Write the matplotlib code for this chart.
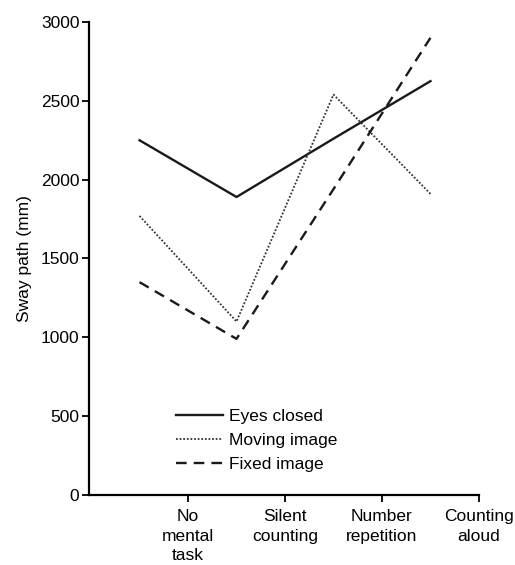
import matplotlib.pyplot as plt
import numpy as np

plt.rcParams['font.family'] = ['Liberation Sans', 'DejaVu Sans']

# Sway path per task condition
conditions = ['No\nmental\ntask', 'Silent\ncounting', 'Number\nrepetition', 'Counting\naloud']
eyes_closed = [2250, 1890, 2260, 2625]
moving_image = [1770, 1100, 2540, 1910]
fixed_image = [1350, 990, 1940, 2900]

fig = plt.figure(figsize=(5.15, 5.65), dpi=100)
ax = fig.add_axes([0.173, 0.124, 0.757, 0.837])

# points sit half a step left of their category labels
x = np.arange(len(conditions)) + 0.5
ax.plot(x, eyes_closed, color='#1a1a1a', lw=1.7, ls='-', label='Eyes closed')
ax.plot(x, moving_image, color='#333333', lw=1.3, ls=(0, (1, 1)), label='Moving image')
ax.plot(x, fixed_image, color='#1a1a1a', lw=1.7, ls=(0, (4.5, 3)), label='Fixed image')

fs = 12.5
ax.set_xlim(-0.02, 4)
ax.set_ylim(0, 3000)
ax.set_xticks(np.arange(1, len(conditions) + 1))
ax.set_xticklabels(conditions, fontsize=fs, linespacing=1.4)
ax.set_yticks(np.arange(0, 3001, 500))
ax.tick_params(axis='y', labelsize=fs, length=5, width=1.3, pad=2)
ax.tick_params(axis='x', length=5, width=1.3, pad=5)
ax.set_ylabel('Sway path (mm)', fontsize=fs, labelpad=6)

for side in ['top', 'right']:
    ax.spines[side].set_visible(False)
for side in ['left', 'bottom']:
    ax.spines[side].set_linewidth(1.6)

ax.legend(loc='lower left', bbox_to_anchor=(0.2, 0.03), frameon=False,
          fontsize=fs, handlelength=2.7, labelspacing=0.5, borderpad=0,
          handletextpad=0.35)

fig.savefig('out.png', dpi=100)
